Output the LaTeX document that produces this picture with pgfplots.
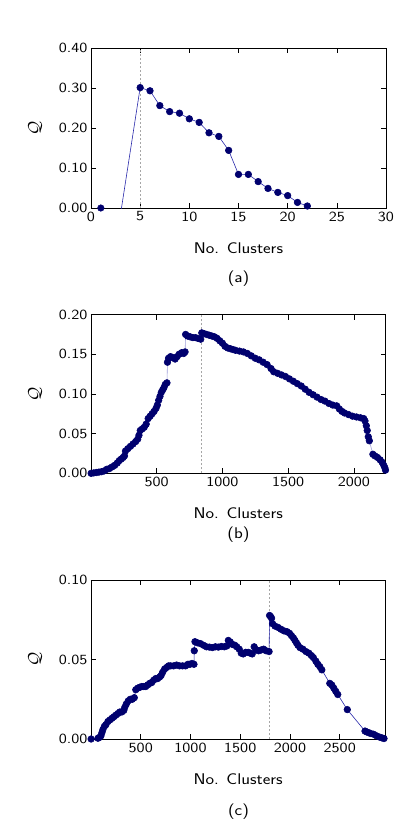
\documentclass[border=0pt]{standalone}
\usepackage{fontspec}
\setmainfont{Latin Modern Sans}[FakeStretch=1.17]
\usepackage{pgfplots}
\pgfplotsset{compat=1.18}
\definecolor{navyc}{RGB}{0,0,110}
\definecolor{linec}{RGB}{40,40,170}
\newcommand{\tfont}{\fontsize{14}{16}\selectfont}
\newcommand{\lfont}{\fontsize{15.5}{17}\selectfont}
\pgfplotsset{
  base/.style={
    scale only axis,
    anchor=south west,
    axis line style={black, line width=0.6pt},
    tick align=inside,
    xtick pos=both, ytick pos=both,
    major tick length=5pt,
    tick style={black, line width=0.5pt},
    every tick label/.append style={font=\tfont},
    /pgf/number format/assume math mode=true,
    /pgf/number format/1000 sep={},
    yticklabel style={/pgf/number format/.cd, fixed, fixed zerofill, precision=2},
    label style={font=\lfont},
    xlabel={No. Clusters},
    ylabel={$\mathcal{Q}$},
    xlabel style={at={(axis description cs:0.5,-0.25)}, anchor=center},
    ylabel style={at={(axis description cs:-0.19,0.5)}, anchor=center, font=\fontsize{18}{20}\selectfont},
    clip=true,
  },
  dl/.style={color=linec, line width=0.6pt},
  dm/.style={mark=*, mark size=3.3pt, mark options={fill=navyc, draw=navyc, solid, opacity=1}},
  vl/.style={gray!70, line width=0.7pt, dash pattern=on 2pt off 2pt},
}
\begin{document}
\begin{tikzpicture}
\useasboundingbox (0,-820pt) rectangle (416pt,0);

% ---------- (a)
\begin{axis}[base, at={(91pt,-208pt)}, width=295pt, height=160pt,
  xmin=0, xmax=30, ymin=0, ymax=0.4,
  xtick={0,5,...,30}, ytick={0,0.1,...,0.4},
  xticklabel style={/pgf/number format/.cd, fixed, precision=0}]
\addplot[vl] coordinates {(5,0) (5,0.4)};
\addplot[dl] coordinates {(3,-0.0158) (5,0.301)};
\addplot[only marks, dm] coordinates {(1,0)};
\addplot[dl, dm] coordinates {
(5,0.301) (6,0.293) (7,0.256) (8,0.241) (9,0.237) (10,0.223) (11,0.214)
(12,0.188) (13,0.179) (14,0.144) (15,0.084) (16,0.084) (17,0.066)
(18,0.049) (19,0.039) (20,0.031) (21,0.014) (22,0.005)};
\end{axis}
\node[font=\lfont] at (238.5pt,-279pt) {(a)};

% ---------- (b)
\begin{axis}[base, at={(91pt,-473.3pt)}, width=294.5pt, height=158.7pt,
  xmin=0, xmax=2241, ymin=0, ymax=0.2,
  xtick={500,1000,1500,2000}, ytick={0,0.05,...,0.2}]
\addplot[vl] coordinates {(843,0) (843,0.2)};
\addplot[dl, opacity=0.45, dm] coordinates {
(1,0.000) (20,0.0005) (40,0.001) (60,0.0015) (80,0.002) (100,0.003)
(120,0.005) (140,0.006) (160,0.008) (180,0.010) (200,0.013) (215,0.016)
(230,0.018) (245,0.020) (255,0.022) (262,0.028) (280,0.031) (300,0.034)
(320,0.037) (340,0.040) (355,0.043) (365,0.048) (375,0.054) (390,0.056)
(405,0.058) (420,0.062) (435,0.069) (450,0.072) (465,0.075) (480,0.078)
(495,0.082) (505,0.086) (515,0.092) (525,0.097) (535,0.102) (545,0.105)
(555,0.108) (565,0.112) (578,0.114) (582,0.140) (590,0.145) (605,0.147)
(620,0.146) (640,0.144) (655,0.147) (670,0.150) (690,0.152) (705,0.151)
(716,0.153) (720,0.175) (735,0.173) (755,0.172) (775,0.171) (795,0.171)
(815,0.170) (835,0.169) (843,0.177) (860,0.176) (880,0.175) (900,0.174)
(920,0.173) (940,0.172) (960,0.170) (980,0.167) (1000,0.164) (1020,0.160)
(1040,0.158) (1060,0.157) (1080,0.156) (1100,0.155) (1130,0.154) (1160,0.153)
(1190,0.151) (1220,0.148) (1250,0.145) (1280,0.143) (1310,0.140) (1340,0.137)
(1370,0.132) (1390,0.128) (1420,0.126) (1450,0.124) (1480,0.122) (1510,0.119)
(1540,0.116) (1570,0.113) (1600,0.110) (1630,0.106) (1660,0.102) (1690,0.099)
(1720,0.096) (1750,0.093) (1780,0.091) (1810,0.088) (1840,0.086) (1870,0.085)
(1890,0.081) (1910,0.078) (1930,0.076) (1960,0.074) (1990,0.072) (2020,0.071)
(2050,0.070) (2075,0.069) (2085,0.066) (2095,0.060) (2102,0.054) (2110,0.046)
(2118,0.041) (2145,0.024) (2160,0.022) (2180,0.020) (2200,0.017) (2215,0.014)
(2228,0.010) (2236,0.007) (2241,0.004)};
\end{axis}
\node[font=\lfont] at (238.5pt,-535pt) {(b)};

% ---------- (c)
\begin{axis}[base, at={(91pt,-739pt)}, width=294.3pt, height=159pt,
  xmin=0, xmax=2958, ymin=0, ymax=0.1,
  xtick={500,1000,1500,2000,2500}, ytick={0,0.05,0.1}]
\addplot[vl] coordinates {(1795,0) (1795,0.1)};
\addplot[dl, dm] coordinates {
(1,0.000) (70,0.0005) (85,0.001) (100,0.002) (110,0.004) (120,0.006)
(135,0.008) (150,0.009) (170,0.011) (190,0.012) (210,0.013) (230,0.014)
(250,0.015) (270,0.016) (290,0.017) (310,0.017) (330,0.018) (340,0.020)
(355,0.022) (375,0.024) (395,0.025) (415,0.025) (435,0.026) (450,0.031)
(470,0.032) (490,0.0325) (510,0.033) (530,0.033) (550,0.033) (570,0.034)
(590,0.035) (610,0.0355) (630,0.037) (650,0.038) (670,0.038) (690,0.039)
(705,0.040) (720,0.042) (740,0.044) (760,0.045) (780,0.046) (800,0.046)
(830,0.046) (860,0.0465) (890,0.046) (920,0.046) (950,0.046) (975,0.047)
(995,0.047) (1015,0.0475) (1035,0.047) (1038,0.0555) (1045,0.0612)
(1070,0.0605) (1100,0.060) (1130,0.059) (1160,0.058) (1190,0.0578)
(1220,0.0575) (1250,0.058) (1280,0.0578) (1310,0.0582) (1340,0.058)
(1365,0.0585) (1380,0.062) (1400,0.061) (1420,0.0595) (1445,0.059)
(1465,0.058) (1490,0.0565) (1510,0.054) (1530,0.0535) (1555,0.0545)
(1580,0.0545) (1600,0.054) (1620,0.0535) (1640,0.058) (1660,0.056)
(1685,0.0555) (1710,0.056) (1735,0.0565) (1760,0.0555) (1790,0.055)
(1795,0.0777) (1805,0.077) (1815,0.076) (1825,0.0725) (1850,0.071)
(1880,0.0702) (1910,0.069) (1940,0.068) (1970,0.0675) (1995,0.0665)
(2015,0.065) (2035,0.0635) (2050,0.062) (2065,0.0605) (2080,0.059)
(2100,0.0575) (2130,0.0565) (2160,0.055) (2190,0.054) (2215,0.0525)
(2235,0.0512) (2260,0.049) (2280,0.047) (2300,0.0455) (2320,0.0435)
(2400,0.035) (2420,0.034) (2440,0.032) (2460,0.030) (2480,0.028)
(2576,0.0185) (2754,0.005) (2770,0.0045) (2790,0.004) (2810,0.0035)
(2840,0.003) (2870,0.002) (2900,0.0012) (2925,0.0007) (2945,0.0003)};
\end{axis}
\node[font=\lfont] at (238.5pt,-812pt) {(c)};
\end{tikzpicture}
\end{document}
